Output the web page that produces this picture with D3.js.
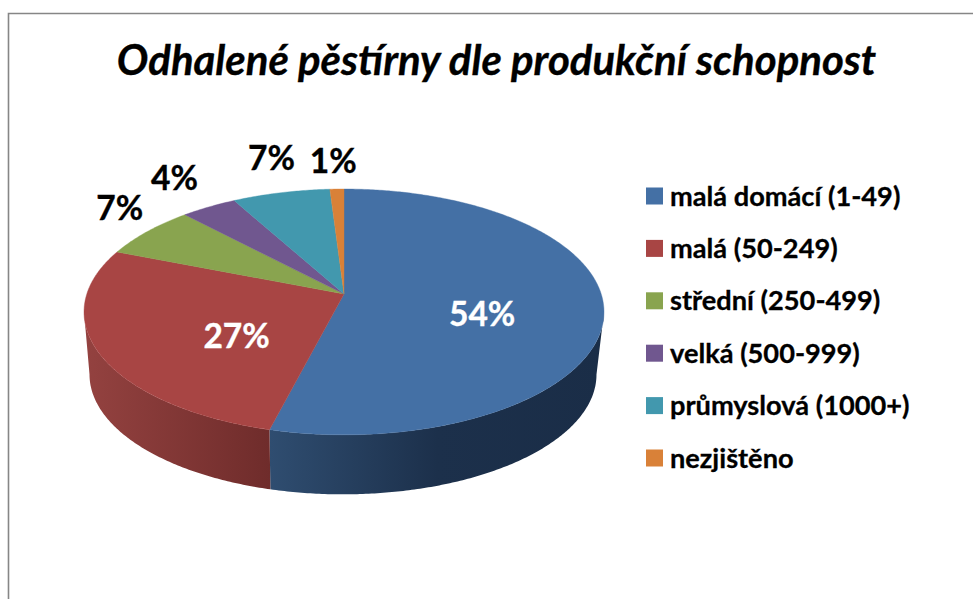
<!DOCTYPE html>
<html><head><meta charset="utf-8">
<script src="https://cdnjs.cloudflare.com/ajax/libs/d3/7.8.5/d3.min.js"></script>
<style>html,body{margin:0;padding:0;background:#fff}svg{display:block}text{font-family:Lato,"Open Sans",sans-serif;font-weight:700}</style>
</head><body><svg id="c" width="973" height="599"></svg>
<script>
const chartTitle = "Odhalené pěstírny dle produkční schopnost";
const categories = ["malá domácí (1-49)","malá (50-249)","střední (250-499)","velká (500-999)","průmyslová (1000+)","nezjištěno"];
const values = [54,27,7,4,7,1];
const colors = ["#4470a5","#a84544","#89a44f","#70578f","#4298ae","#d98138"];
const wallStops = [
  [["0","#2f4d70"],["0.5","#1c304b"],["1","#1a2d47"]],
  [["0","#944240"],["1","#6f2c2b"]]
];
// layout: label anchor radius (fraction of disc) and pixel nudge
const labelRadius = [0.54,0.52,1.12,1.12,1.12,1.12];
const labelNudge = [[-1,12],[16,13],[-6,-16],[-20,-19],[-3,-24],[-3,-17]];

const svg = d3.select("#c");
const cx=344, cy=294, R=257.2, S=120.3, k=0.146;
const depth=63, shrink=0.975, lowerShift=-1;
const TAU=Math.PI*2;
function proj(theta,r=1,lower=false){
  const s=lower?shrink:1, x=Math.sin(theta)*r, y=-Math.cos(theta)*r, w=1-k*y;
  return [cx+(lower?lowerShift:0)+s*R*x/w, cy+(lower?depth:0)+s*S*y/w];
}
const arcs=d3.pie().sort(null).value(d=>d)(values);
const line=d3.line();
function rim(a,b,lower){
  const n=Math.max(2,Math.ceil(Math.abs(b-a)/0.01));
  return d3.range(n+1).map(i=>proj(a+(b-a)*i/n,1,lower));
}
svg.append("rect").attr("width",973).attr("height",599).attr("fill","#fff");
svg.append("path").attr("d","M8.5,599V13.5H973").attr("fill","none").attr("stroke","#868686").attr("stroke-width",1.6);

svg.append("text").attr("x",496.5).attr("y",75).attr("text-anchor","middle")
  .attr("font-size",41.9).attr("font-style","italic").attr("fill","#000")
  .attr("stroke","#000").attr("stroke-width",0.35).text(chartTitle);

const defs=svg.append("defs");
const visA=Math.acos(-k), visB=TAU-visA;
const wallX=[[270,604],[84,270]];
arcs.forEach((d,i)=>{
  const a=Math.max(d.startAngle,visA), b=Math.min(d.endAngle,visB);
  if(a>=b||!wallStops[i]) return;
  const g=defs.append("linearGradient").attr("id","w"+i).attr("gradientUnits","userSpaceOnUse")
    .attr("x1",wallX[i][0]).attr("x2",wallX[i][1]).attr("y1",0).attr("y2",0);
  wallStops[i].forEach(s=>g.append("stop").attr("offset",s[0]).attr("stop-color",s[1]));
  const pts=rim(a,b,false).concat(rim(b,a,true));
  svg.append("path").attr("d",line(pts)+"Z").attr("fill",`url(#w${i})`);
});
arcs.forEach((d,i)=>{
  const pts=[[cx,cy]].concat(rim(d.startAngle,d.endAngle,false));
  svg.append("path").attr("d",line(pts)+"Z").attr("fill",colors[i]).attr("stroke",colors[i]).attr("stroke-width",0.4);
});
arcs.forEach((d,i)=>{
  const p=proj((d.startAngle+d.endAngle)/2,labelRadius[i]);
  const col=i<2?"#fff":"#000";
  svg.append("text").attr("x",p[0]+labelNudge[i][0]).attr("y",p[1]+labelNudge[i][1]).attr("dy","0.35em")
    .attr("text-anchor","middle").attr("font-size",33.5)
    .attr("fill",col).attr("stroke",col).attr("stroke-width",0.35).text(d3.format(".0f")(d.data)+"%");
});
const ly=d3.scalePoint().domain(categories).range([196,458]);
categories.forEach((c,i)=>{
  svg.append("rect").attr("x",646).attr("y",ly(c)-8.5).attr("width",17).attr("height",17).attr("fill",colors[i]);
  svg.append("text").attr("x",670).attr("y",ly(c)).attr("dy","0.35em").attr("font-size",27.2).attr("fill","#000")
    .attr("stroke","#000").attr("stroke-width",0.3).text(c);
});
</script></body></html>
